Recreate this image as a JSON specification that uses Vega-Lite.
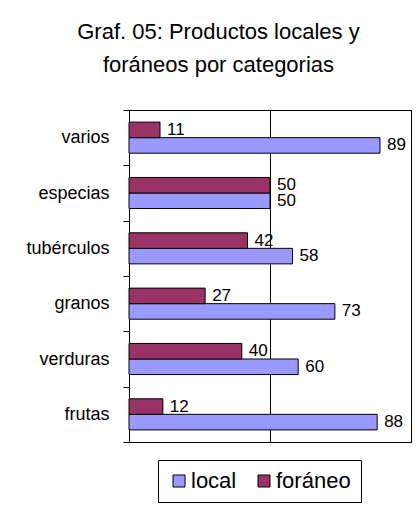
{
  "$schema": "https://vega.github.io/schema/vega-lite/v6.json",
  "autosize": {"type": "none"},
  "width": 282,
  "height": 332,
  "padding": {"left": 129, "top": 110, "right": 6, "bottom": 70},
  "background": "white",
  "title": {
    "text": ["Graf. 05: Productos locales y", "foráneos por categorias"],
    "fontSize": 22,
    "font": "Liberation Sans",
    "fontWeight": "normal",
    "color": "black",
    "anchor": "middle",
    "frame": "bounds",
    "lineHeight": 33,
    "offset": 24
  },
  "config": {
    "font": "Liberation Sans",
    "view": {"stroke": "black", "strokeWidth": 1}
  },
  "data": {
    "values": [
      {"categoria": "varios", "tipo": "local", "valor": 89},
      {"categoria": "varios", "tipo": "foráneo", "valor": 11},
      {"categoria": "especias", "tipo": "local", "valor": 50},
      {"categoria": "especias", "tipo": "foráneo", "valor": 50},
      {"categoria": "tubérculos", "tipo": "local", "valor": 58},
      {"categoria": "tubérculos", "tipo": "foráneo", "valor": 42},
      {"categoria": "granos", "tipo": "local", "valor": 73},
      {"categoria": "granos", "tipo": "foráneo", "valor": 27},
      {"categoria": "verduras", "tipo": "local", "valor": 60},
      {"categoria": "verduras", "tipo": "foráneo", "valor": 40},
      {"categoria": "frutas", "tipo": "local", "valor": 88},
      {"categoria": "frutas", "tipo": "foráneo", "valor": 12}
    ]
  },
  "encoding": {
    "y": {
      "field": "categoria",
      "type": "nominal",
      "sort": ["varios", "especias", "tubérculos", "granos", "verduras", "frutas"],
      "scale": {"paddingInner": 0, "paddingOuter": 0},
      "axis": {
        "title": null,
        "domainColor": "black",
        "tickColor": "black",
        "tickSize": 6,
        "tickBand": "extent",
        "labelFontSize": 18,
        "labelColor": "black",
        "labelPadding": 14,
        "grid": false
      }
    },
    "yOffset": {
      "field": "tipo",
      "type": "nominal",
      "sort": ["foráneo", "local"],
      "scale": {"paddingInner": 0, "paddingOuter": 0.78}
    },
    "x": {
      "field": "valor",
      "type": "quantitative",
      "scale": {"domain": [0, 100], "nice": false},
      "axis": {
        "title": null,
        "labels": false,
        "ticks": false,
        "domain": false,
        "grid": true,
        "values": [0, 50, 100],
        "gridColor": "black",
        "gridOpacity": 1
      }
    }
  },
  "layer": [
    {
      "mark": {"type": "bar", "stroke": "black", "strokeWidth": 1},
      "encoding": {
        "color": {
          "field": "tipo",
          "type": "nominal",
          "scale": {"domain": ["local", "foráneo"], "range": ["#9999FF", "#993366"]},
          "legend": {
            "title": null,
            "orient": "none",
            "legendX": 29,
            "legendY": 350,
            "direction": "horizontal",
            "symbolType": "square",
            "symbolSize": 144,
            "symbolStrokeColor": "black",
            "symbolStrokeWidth": 1,
            "symbolOpacity": 1,
            "labelFontSize": 22,
            "labelColor": "black",
            "labelOffset": 1,
            "columnPadding": 16,
            "padding": 10,
            "strokeColor": "black",
            "fillColor": "white"
          }
        }
      }
    },
    {
      "mark": {"type": "text", "align": "left", "baseline": "middle", "dx": 7, "fontSize": 17, "color": "black"},
      "encoding": {
        "text": {"field": "valor", "type": "quantitative"}
      }
    }
  ]
}
